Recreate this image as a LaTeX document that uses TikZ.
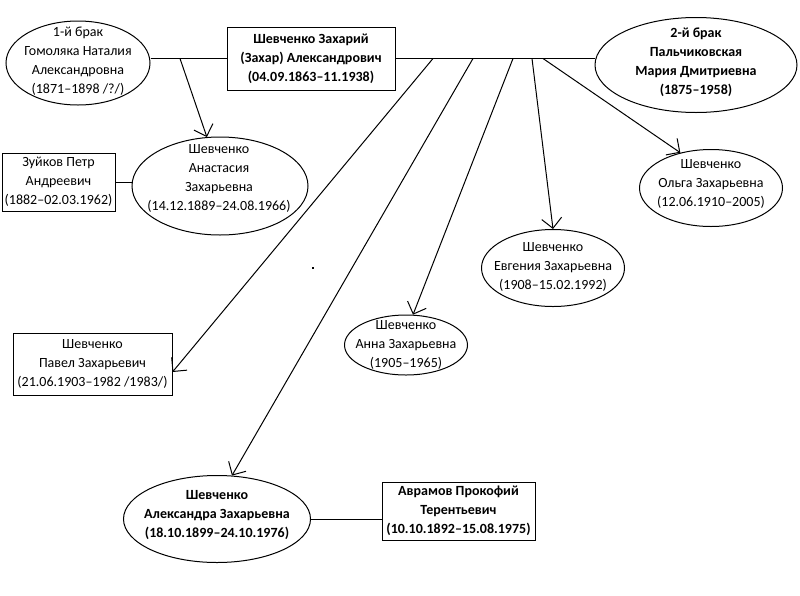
\documentclass[tikz,border=0pt]{standalone}
\usepackage{fontspec}
\setmainfont{Carlito}
\usetikzlibrary{arrows.meta,shapes.geometric}
\begin{document}
\begin{tikzpicture}[x=1pt,y=-1pt,
  every node/.style={font=\fontsize{14}{19}\selectfont, align=center, inner sep=0pt},
  oval/.style={draw, ellipse, line width=1pt},
  box/.style={draw, rectangle, line width=1pt},
  bold/.style={font=\fontsize{14}{19}\selectfont\bfseries},
  link/.style={line width=1pt},
  arr/.style={line width=1pt, -{Straight Barb[length=10pt,width=20pt]}}]
\useasboundingbox (0,0) rectangle (800,595);
\fill[white] (0,0) rectangle (800,595);
% ellipse outlines
\node[oval, minimum width=144pt, minimum height=84pt] (m1) at (78,63) {};
\node[oval, minimum width=202pt, minimum height=95pt] (m2) at (696,65) {};
\node[oval, minimum width=176pt, minimum height=98pt] (anast) at (220,186) {};
\node[oval, minimum width=143pt, minimum height=77pt] (olga) at (711,188) {};
\node[oval, minimum width=143pt, minimum height=77pt] (evg) at (553,268) {};
\node[oval, minimum width=123pt, minimum height=60pt] (anna) at (406,345) {};
\node[oval, minimum width=187pt, minimum height=87pt] (alex) at (217,519) {};
% ellipse texts
\node (m1t) at (78,61) {1-й брак\\Гомоляка Наталия\\Александровна\\(1871–1898 /?/)};
\node[bold] (m2t) at (696,62) {2-й брак\\Пальчиковская\\Мария Дмитриевна\\(1875–1958)};
\node (anastt) at (219,178.5) {Шевченко\\Анастасия\\Захарьевна\\(14.12.1889–24.08.1966)};
\node (olgat) at (711,184) {Шевченко\\Ольга Захарьевна\\(12.06.1910–2005)};
\node (evgt) at (553,267) {Шевченко\\Евгения Захарьевна\\(1908–15.02.1992)};
\node (annat) at (406,345) {Шевченко\\Анна Захарьевна\\(1905–1965)};
\node[bold] (alext) at (217,515) {Шевченко\\Александра Захарьевна\\(18.10.1899–24.10.1976)};
% boxes
\node[box, bold, minimum width=168pt, minimum height=63pt] (zak) at (311,58.5)
  {Шевченко Захарий\\(Захар) Александрович\\(04.09.1863–11.1938)};
\node[box, minimum width=113pt, minimum height=58pt] (zuy) at (58.5,182)
  {Зуйков Петр\\Андреевич\\(1882–02.03.1962)};
\node[box, minimum width=159pt, minimum height=62pt] (pavel) at (92.5,364)
  {Шевченко\\Павел Захарьевич\\(21.06.1903–1982 /1983/)};
\node[box, bold, minimum width=153pt, minimum height=58pt] (avr) at (458.5,511)
  {Аврамов Прокофий\\Терентьевич\\(10.10.1892–15.08.1975)};
% marriage line
\draw[link] (zak.west -| m1.east) -- (zak.west);
\draw[link] (zak.east) -- (zak.east -| m2.west);
% spouses of children
\draw[link] (zuy.east) -- (zuy.east -| anast.west);
\draw[link] (alex.east) -- (alex.east -| avr.west);
% starting points on the marriage line
\coordinate (s1) at (180,58.5);
\coordinate (s2) at (433,58.5);
\coordinate (s3) at (473,58.5);
\coordinate (s4) at (513,58.5);
\coordinate (s5) at (532,58.5);
\coordinate (s6) at (543,58.5);
\draw[arr] (s1) -- (anast.105);
\draw[arr] (s2) -- ([yshift=-8pt]pavel.east);
\draw[arr] (s3) -- (alex.71);
\draw[arr] (s4) -- (anna.77);
\draw[arr] (s5) -- (evg.north);
\draw[arr] (s6) -- (olga.131);
\fill (312,267) rectangle (314,269);
\end{tikzpicture}
\end{document}
